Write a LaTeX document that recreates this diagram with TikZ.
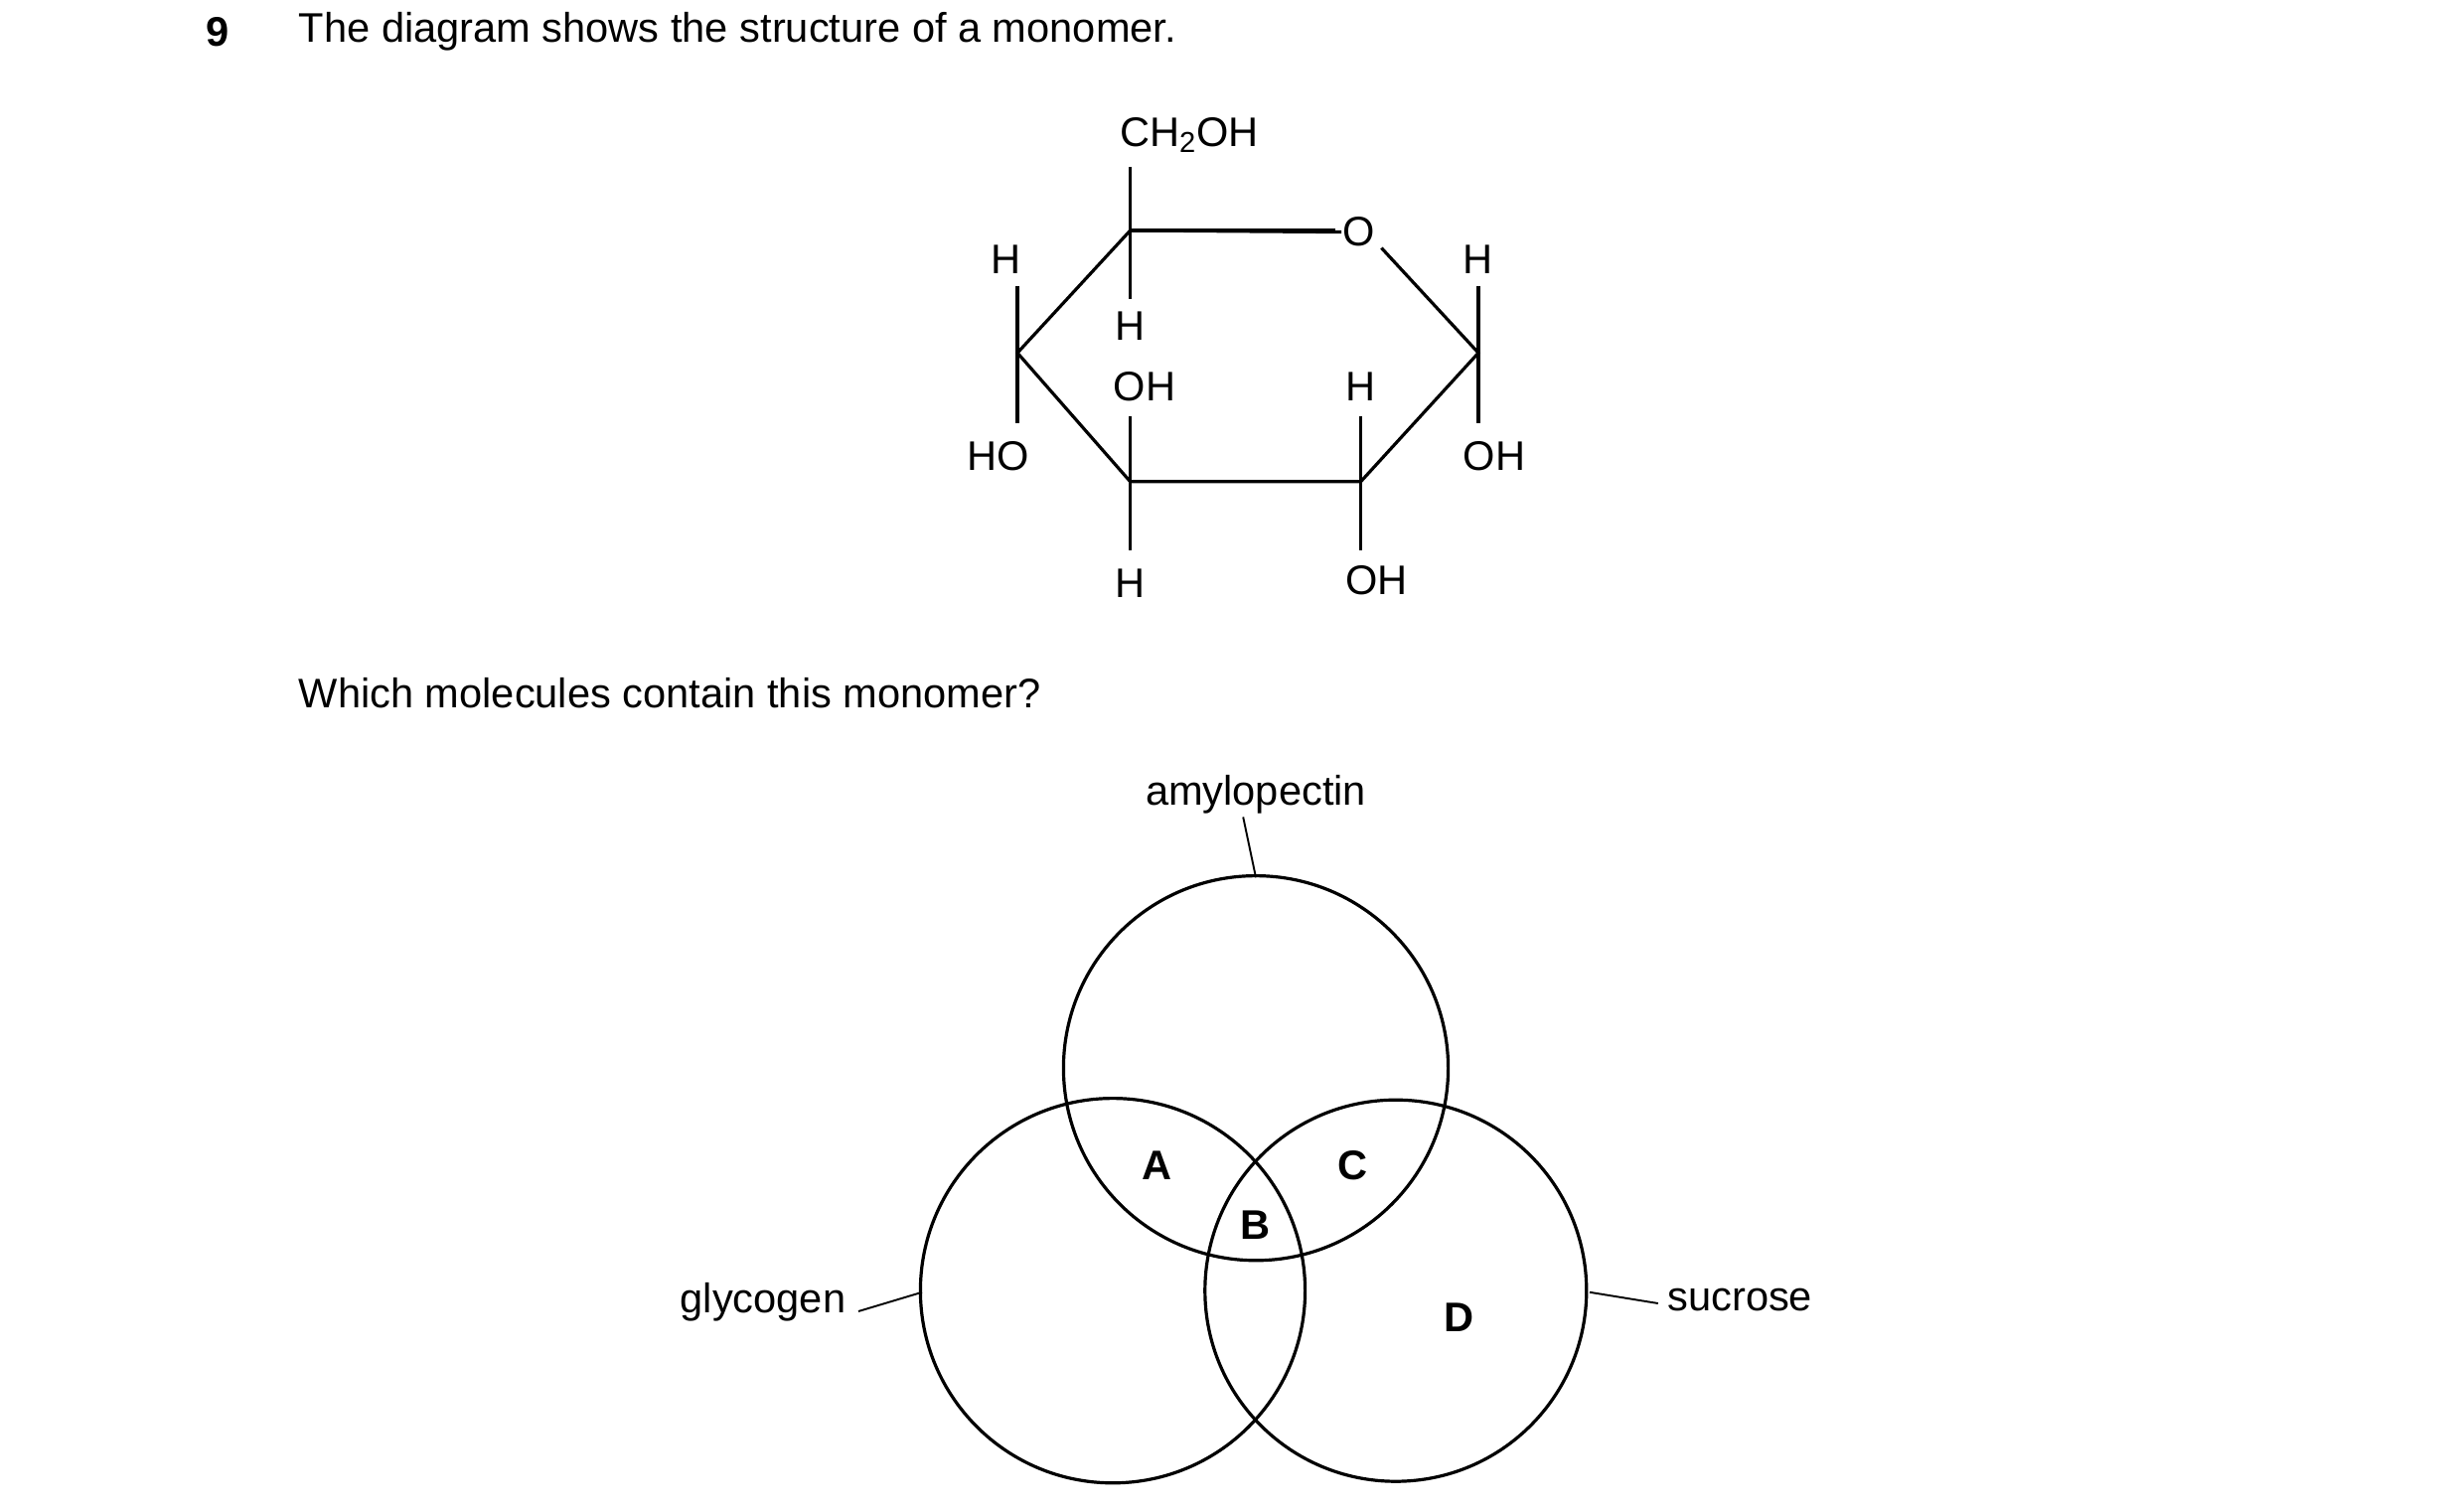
\documentclass[tikz,border=0pt]{standalone}
\usepackage{fontspec}
\setmainfont{Liberation Sans}
\begin{document}
\begin{tikzpicture}[x=1pt,y=-1pt,line width=2pt,
  t/.style={inner sep=0pt,font=\fontsize{26}{30}\selectfont},
  b/.style={t,font=\fontsize{26}{30}\selectfont\bfseries}]
\useasboundingbox (0,0) rectangle (1550,949);
\node[b] (n9) at (137,20) {9};
\node[t,anchor=west] (q1) at (187,20) {The diagram shows the structure of a monomer.};
\node[t] (ch) at (748,85) {CH\textsubscript{2}OH};
\coordinate (c5) at (711,145); \coordinate (c4) at (640,222); \coordinate (c3) at (711,303);
\coordinate (c2) at (856,303); \coordinate (c1) at (930,222);
\node[t] (o) at (855,146) {O};
\draw (c5) -- (o.west) ++(-6,0);
\draw (c5) -- (840,145);
\draw (869,156) -- (c1) -- (c2) -- (c3) -- (c4) -- (c5);
\draw (711,105) -- (711,188);
\node[t] (h5) at (711,205) {H};
\node[t] (h4) at (633,163) {H}; \node[t] (ho4) at (628,287) {HO};
\draw (640,180) -- (640,266);
\node[t] (h1) at (930,163) {H}; \node[t] (oh1) at (940,287) {OH};
\draw (930,180) -- (930,266);
\node[t] (oh3) at (720,243) {OH}; \node[t] (h3) at (711,367) {H};
\draw (711,262) -- (711,346);
\node[t] (h2) at (856,243) {H}; \node[t] (oh2) at (866,365) {OH};
\draw (856,262) -- (856,346);
\node[t,anchor=west] (q2) at (187,436) {Which molecules contain this monomer?};
\draw (790,672) circle (121);
\draw (700,812) circle (121);
\draw (878,812) circle (120);
\node[t] (am) at (790,500) {amylopectin};
\draw[line width=1.2pt] (782,514) -- (790,552);
\node[t,anchor=east] (gl) at (533,819) {glycogen};
\draw[line width=1.2pt] (540,825) -- (580,813);
\node[t,anchor=west] (su) at (1048,818) {sucrose};
\draw[line width=1.2pt] (1000,813) -- (1043,820);
\node[b] (A) at (728,733) {A};
\node[b] (B) at (790,771) {B};
\node[b] (C) at (851,733) {C};
\node[b] (D) at (918,829) {D};
\end{tikzpicture}
\end{document}
